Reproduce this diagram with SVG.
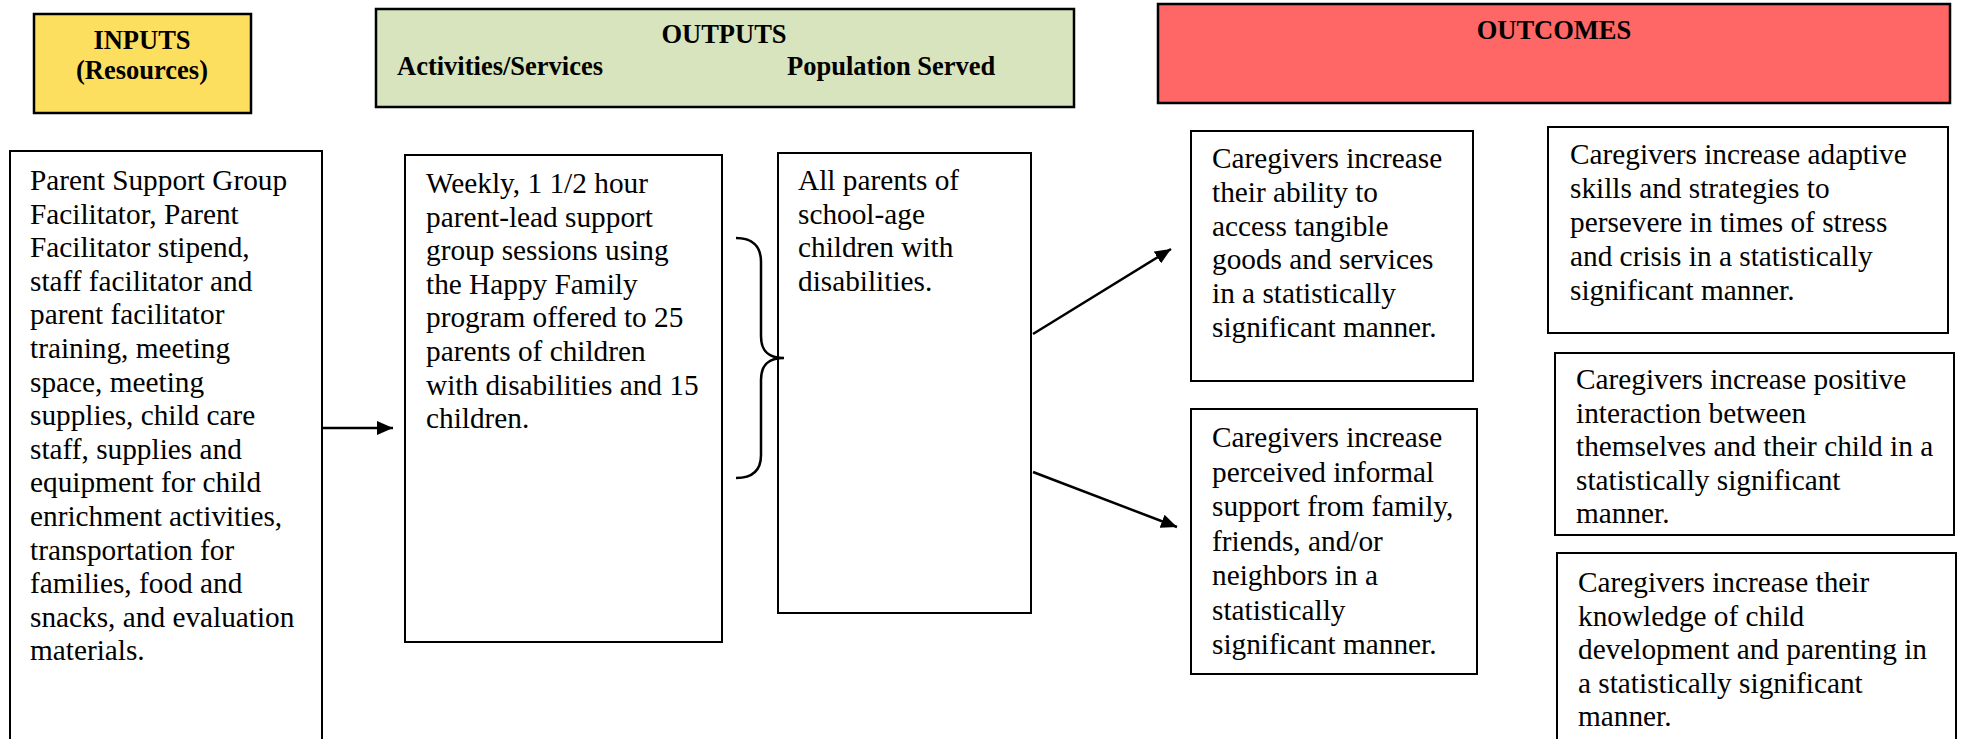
<svg xmlns="http://www.w3.org/2000/svg" width="1965" height="739" viewBox="0 0 1965 739">
<style>
.box{fill:#fff;stroke:#000;stroke-width:2}
.hdr{stroke:#000;stroke-width:2.5}
.t{font-family:"Liberation Serif","Times New Roman",serif;font-size:29.3px;fill:#000}
.h{font-family:"Liberation Serif","Times New Roman",serif;font-size:26.5px;font-weight:bold;fill:#000}
.ln{fill:none;stroke:#000;stroke-width:2.5}
</style>
<defs>
<marker id="ah" markerUnits="userSpaceOnUse" markerWidth="18" markerHeight="14" refX="16" refY="7" orient="auto">
<path d="M0,0 L16,7 L0,14 Z" fill="#000"/>
</marker>
</defs>
<rect width="1965" height="739" fill="#fff"/>
<g id="inputs-header">
<rect class="hdr" x="34" y="14" width="217" height="99" fill="#FDDF5F"/>
<text class="h" x="142" y="49" text-anchor="middle">INPUTS</text>
<text class="h" x="142" y="79" text-anchor="middle">(Resources)</text>
</g>
<g id="outputs-header">
<rect class="hdr" x="376" y="9" width="698" height="98" fill="#D7E4BD"/>
<text class="h" x="724" y="43" text-anchor="middle">OUTPUTS</text>
<text class="h" x="397" y="75">Activities/Services</text>
<text class="h" x="787" y="75">Population Served</text>
</g>
<g id="outcomes-header">
<rect class="hdr" x="1158" y="4" width="792" height="99" fill="#FF6666"/>
<text class="h" x="1554" y="39" text-anchor="middle">OUTCOMES</text>
</g>
<g id="inputs">
<rect class="box" x="10" y="151" width="312" height="600"/>
<text class="t" x="30" y="190"><tspan x="30">Parent Support Group</tspan><tspan x="30" dy="33.6">Facilitator, Parent</tspan><tspan x="30" dy="33.6">Facilitator stipend,</tspan><tspan x="30" dy="33.6">staff facilitator and</tspan><tspan x="30" dy="33.6">parent facilitator</tspan><tspan x="30" dy="33.6">training, meeting</tspan><tspan x="30" dy="33.6">space, meeting</tspan><tspan x="30" dy="33.6">supplies, child care</tspan><tspan x="30" dy="33.6">staff, supplies and</tspan><tspan x="30" dy="33.6">equipment for child</tspan><tspan x="30" dy="33.6">enrichment activities,</tspan><tspan x="30" dy="33.6">transportation for</tspan><tspan x="30" dy="33.6">families, food and</tspan><tspan x="30" dy="33.6">snacks, and evaluation</tspan><tspan x="30" dy="33.6">materials.</tspan></text>
</g>
<g id="activities">
<rect class="box" x="405" y="155" width="317" height="487"/>
<text class="t" x="426" y="193"><tspan x="426">Weekly, 1 1/2 hour</tspan><tspan x="426" dy="33.6">parent-lead support</tspan><tspan x="426" dy="33.6">group sessions using</tspan><tspan x="426" dy="33.6">the Happy Family</tspan><tspan x="426" dy="33.6">program offered to 25</tspan><tspan x="426" dy="33.6">parents of children</tspan><tspan x="426" dy="33.6">with disabilities and 15</tspan><tspan x="426" dy="33.6">children.</tspan></text>
</g>
<g id="population">
<rect class="box" x="778" y="153" width="253" height="460"/>
<text class="t" x="798" y="190"><tspan x="798">All parents of</tspan><tspan x="798" dy="33.6">school-age</tspan><tspan x="798" dy="33.6">children with</tspan><tspan x="798" dy="33.6">disabilities.</tspan></text>
</g>
<g id="outcome-access">
<rect class="box" x="1191" y="131" width="282" height="250"/>
<text class="t" x="1212" y="168"><tspan x="1212">Caregivers increase</tspan><tspan x="1212" dy="33.8">their ability to</tspan><tspan x="1212" dy="33.8">access tangible</tspan><tspan x="1212" dy="33.8">goods and services</tspan><tspan x="1212" dy="33.8">in a statistically</tspan><tspan x="1212" dy="33.8">significant manner.</tspan></text>
</g>
<g id="outcome-support">
<rect class="box" x="1191" y="409" width="286" height="265"/>
<text class="t" x="1212" y="447"><tspan x="1212">Caregivers increase</tspan><tspan x="1212" dy="34.5">perceived informal</tspan><tspan x="1212" dy="34.5">support from family,</tspan><tspan x="1212" dy="34.5">friends, and/or</tspan><tspan x="1212" dy="34.5">neighbors in a</tspan><tspan x="1212" dy="34.5">statistically</tspan><tspan x="1212" dy="34.5">significant manner.</tspan></text>
</g>
<g id="outcome-adaptive">
<rect class="box" x="1548" y="127" width="400" height="206"/>
<text class="t" x="1570" y="164"><tspan x="1570">Caregivers increase adaptive</tspan><tspan x="1570" dy="34">skills and strategies to</tspan><tspan x="1570" dy="34">persevere in times of stress</tspan><tspan x="1570" dy="34">and crisis in a statistically</tspan><tspan x="1570" dy="34">significant manner.</tspan></text>
</g>
<g id="outcome-interaction">
<rect class="box" x="1555" y="353" width="399" height="182"/>
<text class="t" x="1576" y="389"><tspan x="1576">Caregivers increase positive</tspan><tspan x="1576" dy="33.6">interaction between</tspan><tspan x="1576" dy="33.6">themselves and their child in a</tspan><tspan x="1576" dy="33.6">statistically significant</tspan><tspan x="1576" dy="33.6">manner.</tspan></text>
</g>
<g id="outcome-knowledge">
<rect class="box" x="1557" y="553" width="399" height="210"/>
<text class="t" x="1578" y="592"><tspan x="1578">Caregivers increase their</tspan><tspan x="1578" dy="33.6">knowledge of child</tspan><tspan x="1578" dy="33.6">development and parenting in</tspan><tspan x="1578" dy="33.6">a statistically significant</tspan><tspan x="1578" dy="33.6">manner.</tspan></text>
</g>
<g id="connectors">
<line class="ln" x1="322" y1="428" x2="393" y2="428" marker-end="url(#ah)"/>
<path class="ln" d="M736,238 C752,238 761,246 761,262 L761,336 C761,352 769,358 784,358 C769,358 761,364 761,380 L761,455 C761,471 752,478 736,478"/>
<line class="ln" x1="1033" y1="334" x2="1171" y2="249" marker-end="url(#ah)"/>
<line class="ln" x1="1033" y1="472" x2="1177" y2="527" marker-end="url(#ah)"/>
</g>
</svg>
